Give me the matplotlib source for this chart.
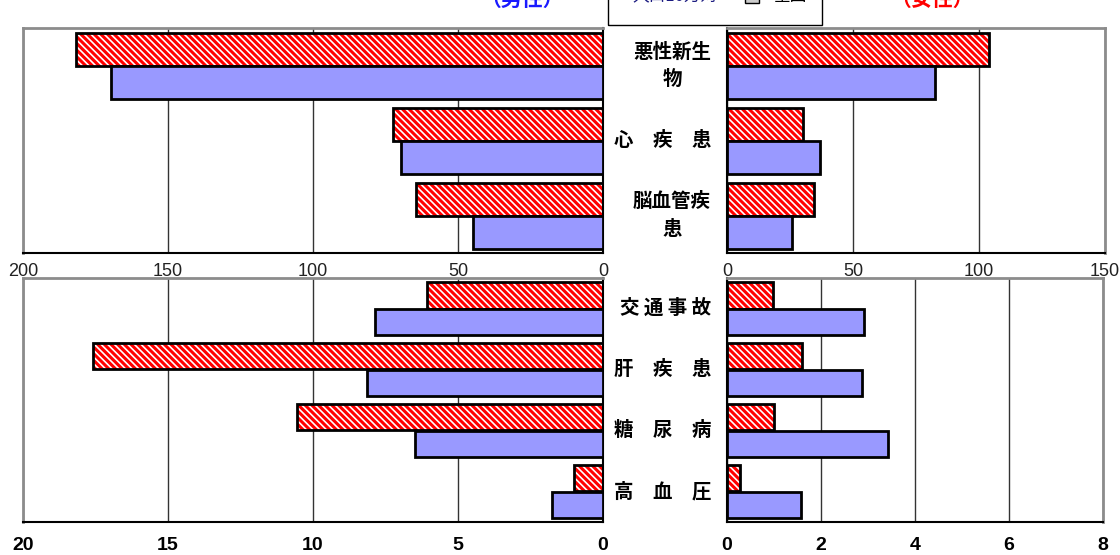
import matplotlib
matplotlib.use("Agg")
import matplotlib.pyplot as plt
import matplotlib.transforms as mtransforms
from matplotlib.patches import Rectangle
import numpy as np

plt.rcParams["font.family"] = ["Noto Sans CJK JP", "DejaVu Sans"]
plt.rcParams["hatch.linewidth"] = 2.2

################  data (rates)  ################
cat_top = ["悪性新生\n物", "心　疾　患", "脳血管疾\n患"]
cat_bottom = ["交 通 事 故", "肝　疾　患", "糖　尿　病", "高　血　圧"]

male_top_pref = [181.6, 72.3, 64.5]
male_top_nat = [169.7, 69.5, 44.7]
female_top_pref = [104.0, 30.3, 34.6]
female_top_nat = [82.4, 37.1, 25.8]

male_bot_pref = [6.07, 17.6, 10.55, 1.0]
male_bot_nat = [7.86, 8.14, 6.48, 1.76]
female_bot_pref = [0.98, 1.6, 1.0, 0.28]
female_bot_nat = [2.91, 2.87, 3.43, 1.57]

top_ticks_left = [0, 50, 100, 150, 200]
top_ticks_right = [0, 50, 100, 150]
bot_ticks_left = [0, 5, 10, 15, 20]
bot_ticks_right = [0, 2, 4, 6, 8]

RED = "#ff0000"
BLUE = "#9999ff"
GRAY = "#8c8c8c"
W, H = 1120, 555

tick_font = ["Liberation Sans", "DejaVu Sans"]


def px_axes(fig, x0, y0, x1, y1):
    # pixel box (top-left origin) -> figure axes
    return fig.add_axes([x0 / W, (H - y1) / H, (x1 - x0) / W, (y1 - y0) / H])


def draw_panel(ax, pref, nat, ticks, left_side, bold_ticks, pad):
    n = len(pref)
    y = np.arange(n)
    bh = 0.44
    ax.barh(y - bh / 2, pref, height=bh, color="white", edgecolor=RED,
            hatch="\\\\\\\\\\", lw=0, zorder=2)
    ax.barh(y - bh / 2, pref, height=bh, fill=False, edgecolor="black", lw=2, zorder=3)
    ax.barh(y + bh / 2, nat, height=bh, color=BLUE, edgecolor="black", lw=2, zorder=3)

    if left_side:
        ax.set_xlim(ticks[-1], 0)
    else:
        ax.set_xlim(0, ticks[-1])
    ax.set_ylim(n - 0.5, -0.5)
    ax.set_yticks([])
    ax.set_xticks(ticks)
    ax.grid(axis="x", color="#333333", lw=1)
    ax.set_axisbelow(True)
    ax.tick_params(axis="x", length=0, pad=pad)
    for lab in ax.get_xticklabels():
        lab.set_family(tick_font)
        if bold_ticks:
            lab.set_fontsize(14)
            lab.set_fontweight("bold")
            lab.set_color("black")
        else:
            lab.set_fontsize(13)
            lab.set_color("#222222")

    ax.spines["top"].set_color(GRAY)
    ax.spines["top"].set_linewidth(2)
    ax.spines["bottom"].set_color("black")
    ax.spines["bottom"].set_linewidth(1.5)
    outer = "left" if left_side else "right"
    inner = "right" if left_side else "left"
    ax.spines[outer].set_color(GRAY)
    ax.spines[outer].set_linewidth(2)
    ax.spines[inner].set_color("black")
    ax.spines[inner].set_linewidth(1.5)


fig = plt.figure(figsize=(W / 100, H / 100), dpi=100)

ax_tl = px_axes(fig, 23, 28, 603, 253)
ax_tr = px_axes(fig, 727, 28, 1105, 253)
ax_bl = px_axes(fig, 23, 278, 603, 522)
ax_br = px_axes(fig, 727, 278, 1103, 522)

draw_panel(ax_tl, male_top_pref, male_top_nat, top_ticks_left, True, False, 7)
draw_panel(ax_tr, female_top_pref, female_top_nat, top_ticks_right, False, False, 7)
draw_panel(ax_bl, male_bot_pref, male_bot_nat, bot_ticks_left, True, True, 11)
draw_panel(ax_br, female_bot_pref, female_bot_nat, bot_ticks_right, False, True, 11)

# category labels between the panels
lab_x = 711 / W
tr_top = mtransforms.blended_transform_factory(fig.transFigure, ax_tl.transData)
for i, name in enumerate(cat_top):
    fig.text(lab_x, i, name, transform=tr_top, ha="right", va="center",
             multialignment="center", fontsize=14, fontweight="bold", linespacing=1.55)
tr_bot = mtransforms.blended_transform_factory(fig.transFigure, ax_bl.transData)
for i, name in enumerate(cat_bottom):
    fig.text(lab_x, i, name, transform=tr_bot, ha="right", va="center",
             fontsize=14, fontweight="bold")

# titles (cut at the top edge, as in the source)
fig.text(522 / W, (H + 1) / H, "（男性）", color="#1a1aff", fontsize=15,
         fontweight="bold", ha="center", va="center")
fig.text(932 / W, (H + 1) / H, "（女性）", color=RED, fontsize=15,
         fontweight="bold", ha="center", va="center")

# legend box (cut at the top edge)
fig.patches.append(Rectangle((608 / W, (H - 25) / H), 214 / W, 60 / H,
                             transform=fig.transFigure, fill=False,
                             edgecolor="black", lw=1))
fig.text(675 / W, (H + 4) / H, "人口10万対", color="#1a1a80", fontsize=12,
         ha="center", va="center")
fig.patches.append(Rectangle((745 / W, (H - 3) / H), 14 / W, 12 / H,
                             transform=fig.transFigure, facecolor="#cccccc",
                             edgecolor="black", lw=1))
fig.text(790 / W, (H + 4) / H, "全国", color="black", fontsize=12,
         ha="center", va="center")

fig.savefig("out.png", dpi=100)
